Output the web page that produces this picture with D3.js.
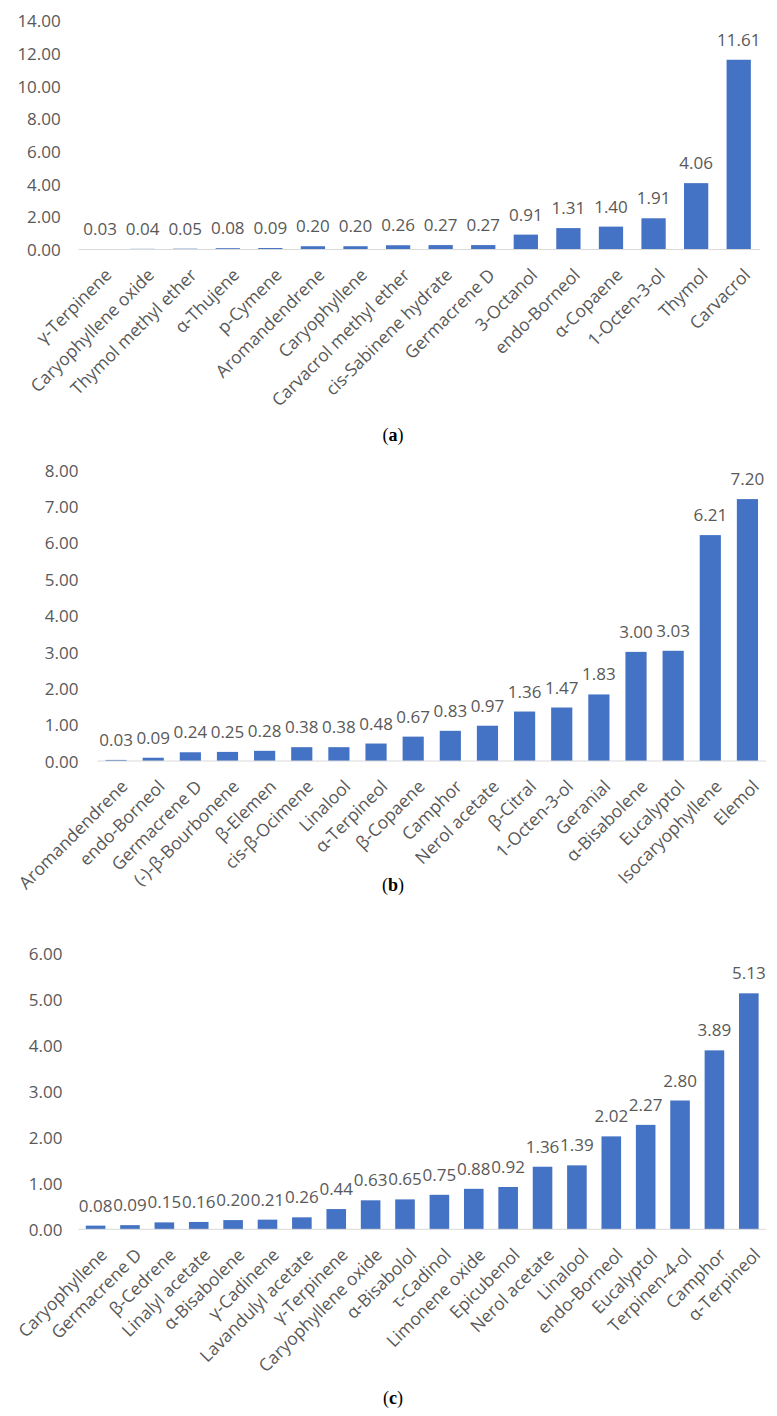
<!DOCTYPE html>
<html>
<head>
<meta charset="utf-8">
<script src="https://cdn.jsdelivr.net/npm/d3@7"></script>
<style>
  html, body { margin: 0; padding: 0; background: #fff; }
  svg { display: block; }
</style>
</head>
<body>
<svg id="chart" width="777" height="1416"></svg>
<script>
// ---------- DATA ----------
const catsA = ["γ-Terpinene","Caryophyllene oxide","Thymol methyl ether","α-Thujene","p-Cymene","Aromandendrene","Caryophyllene","Carvacrol methyl ether","cis-Sabinene hydrate","Germacrene D","3-Octanol","endo-Borneol","α-Copaene","1-Octen-3-ol","Thymol","Carvacrol"];
const valsA = [0.03,0.04,0.05,0.08,0.09,0.20,0.20,0.26,0.27,0.27,0.91,1.31,1.40,1.91,4.06,11.61];
const ticksA = [0,2,4,6,8,10,12,14];

const catsB = ["Aromandendrene","endo-Borneol","Germacrene D","(-)-β-Bourbonene","β-Elemen","cis-β-Ocimene","Linalool","α-Terpineol","β-Copaene","Camphor","Nerol acetate","β-Citral","1-Octen-3-ol","Geranial","α-Bisabolene","Eucalyptol","Isocaryophyllene","Elemol"];
const valsB = [0.03,0.09,0.24,0.25,0.28,0.38,0.38,0.48,0.67,0.83,0.97,1.36,1.47,1.83,3.00,3.03,6.21,7.20];
const ticksB = [0,1,2,3,4,5,6,7,8];

const catsC = ["Caryophyllene","Germacrene D","β-Cedrene","Linalyl acetate","α-Bisabolene","γ-Cadinene","Lavandulyl acetate","γ-Terpinene","Caryophyllene oxide","α-Bisabolol","τ-Cadinol","Limonene oxide","Epicubenol","Nerol acetate","Linalool","endo-Borneol","Eucalyptol","Terpinen-4-ol","Camphor","α-Terpineol"];
const valsC = [0.08,0.09,0.15,0.16,0.20,0.21,0.26,0.44,0.63,0.65,0.75,0.88,0.92,1.36,1.39,2.02,2.27,2.80,3.89,5.13];
const ticksC = [0,1,2,3,4,5,6];

const captions = ["a","b","c"];

// ---------- DRAW ----------
const svg = d3.select("#chart");
const FONT = "'Open Sans', 'Noto Sans', sans-serif";
const TXT = "#595959";
const BAR = "#4472C4";

function panel(cats, vals, ticks, lay, cap) {
  const g = svg.append("g");
  const x = d3.scaleBand().domain(cats).range([lay.x0, lay.x1]).paddingInner(0.43).paddingOuter(0.215);
  const y = d3.scaleLinear().domain([0, d3.max(ticks)]).range([lay.yBottom, lay.yTop]);

  // y tick labels
  const yAxis = d3.axisLeft(y).tickValues(ticks).tickFormat(d3.format(".2f")).tickSize(0).tickPadding(lay.yPad);
  const ya = g.append("g").attr("transform", `translate(${lay.x0},0)`).call(yAxis);
  ya.select(".domain").remove();
  ya.selectAll("text").attr("fill", TXT).style("font-family", FONT).style("font-size", "17px").attr("dy", "0.36em");

  // bars
  g.selectAll("rect.bar").data(vals).join("rect")
    .attr("class", "bar")
    .attr("x", (d, i) => x(cats[i]))
    .attr("width", x.bandwidth())
    .attr("y", d => y(d))
    .attr("height", d => y(0) - y(d))
    .attr("fill", BAR);

  // x axis line
  g.append("line").attr("x1", lay.x0).attr("x2", lay.x1)
    .attr("y1", y(0)).attr("y2", y(0))
    .attr("stroke", "#D9D9D9").attr("stroke-width", 1);

  // data labels
  g.selectAll("text.lbl").data(vals).join("text")
    .attr("class", "lbl")
    .attr("x", (d, i) => x(cats[i]) + x.bandwidth() / 2)
    .attr("y", d => y(d) - 14)
    .attr("text-anchor", "middle")
    .attr("fill", TXT)
    .style("font-family", FONT).style("font-size", "17px")
    .text(d => d3.format(".2f")(d));

  // category labels (rotated -45°)
  g.selectAll("text.cat").data(cats).join("text")
    .attr("class", "cat")
    .attr("transform", d => `translate(${x(d) + x.bandwidth() / 2 + 4},${y(0) + 18}) rotate(-45)`)
    .attr("text-anchor", "end")
    .attr("dy", "0.7em")
    .attr("fill", TXT)
    .style("font-family", FONT).style("font-size", "17.5px")
    .text(d => d);

  // caption
  const t = svg.append("text").attr("x", 393).attr("y", lay.capY)
    .attr("text-anchor", "middle")
    .style("font-family", "'Liberation Serif', 'DejaVu Serif', serif").style("font-size", "18px")
    .attr("fill", "#000");
  t.append("tspan").text("(");
  t.append("tspan").style("font-weight", "bold").text(cap);
  t.append("tspan").text(")");
}

panel(catsA, valsA, ticksA, {x0: 78.75, x1: 760, yTop: 20.7, yBottom: 249.5, yPad: 18, capY: 441}, captions[0]);
panel(catsB, valsB, ticksB, {x0: 97.5, x1: 766, yTop: 470, yBottom: 761, yPad: 19, capY: 891}, captions[1]);
panel(catsC, valsC, ticksC, {x0: 78.4, x1: 766, yTop: 953.3, yBottom: 1229.3, yPad: 16, capY: 1404}, captions[2]);
</script>
</body>
</html>
